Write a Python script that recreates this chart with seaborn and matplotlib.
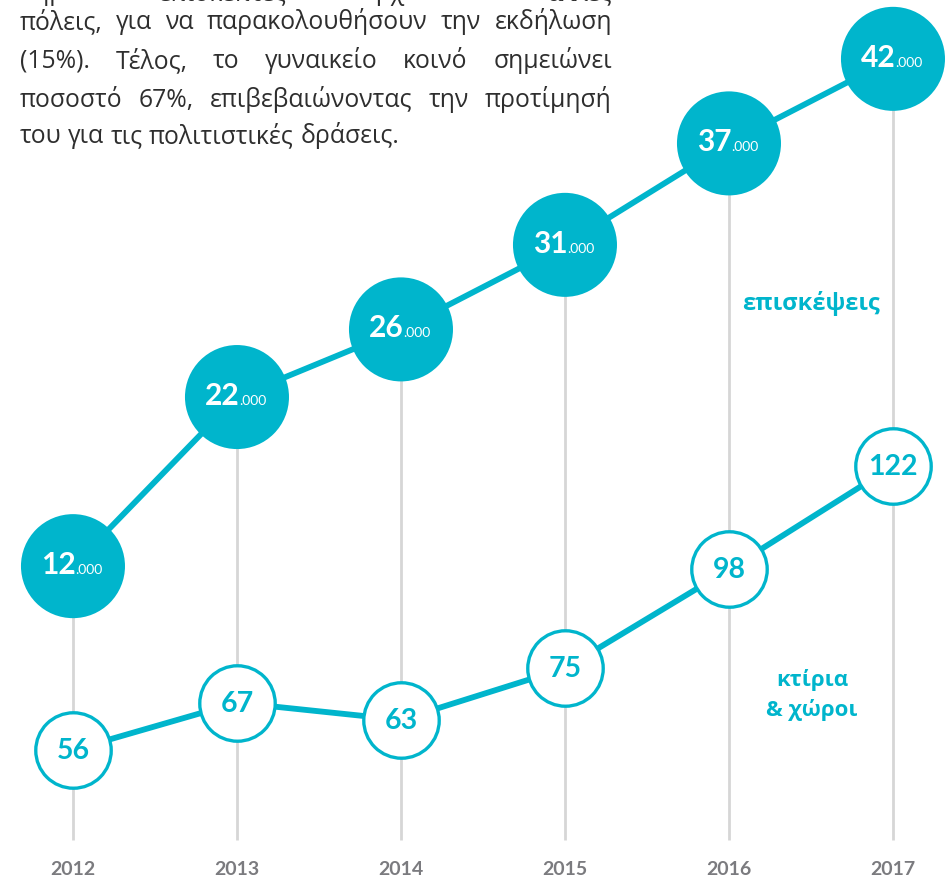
import matplotlib
matplotlib.use("Agg")
import matplotlib.pyplot as plt
import seaborn as sns
import pandas as pd

# ---- data ----
years = [2012, 2013, 2014, 2015, 2016, 2017]
visits_k = [12, 22, 26, 31, 37, 42]          # επισκέψεις (thousands)
buildings = [56, 67, 63, 75, 98, 122]        # κτίρια & χώροι
year_labels = ["2012", "2013", "2014", "2015", "2016", "2017"]
visits_suffix = ".000"
label_visits = "επισκέψεις"
label_buildings = "κτίρια\n& χώροι"
paragraph = [
    "σημαντικά επισκέπτες που έρχονται από άλλες",
    "πόλεις, για να παρακολουθήσουν την εκδήλωση",
    "(15%). Τέλος, το γυναικείο κοινό σημειώνει",
    "ποσοστό 67%, επιβεβαιώνοντας την προτίμησή",
    "του για τις πολιτιστικές δράσεις.",
]

TEAL = "#00B5CC"
GRID = "#D6D6D6"
YEARC = "#7B7B7F"
TEXTC = "#2E2E2E"
FONT = ["Lato", "Open Sans", "DejaVu Sans"]
FONT_TXT = ["Open Sans", "Noto Sans", "DejaVu Sans"]

sns.set_theme(style="white")
plt.rcParams["font.family"] = FONT

W, H = 953, 880
fig = plt.figure(figsize=(W / 100, H / 100), dpi=100)
ax = fig.add_axes([0, 0, 1, 1])
ax2 = ax.twinx()
ax2.set_position([0, 0, 1, 1])

df = pd.DataFrame({"year": years, "visits": visits_k, "buildings": buildings})

# scales
ax.set_xlim(2011.555, 2017.366)
ax.set_ylim(-6.56, 45.48)
ax2.set_ylim(25.77, 230.4)

# vertical guide lines
ax.vlines(df["year"], -4.2, df["visits"], color=GRID, lw=2, zorder=1)

# visits line + big circles
sns.lineplot(data=df, x="year", y="visits", ax=ax, color=TEAL, lw=4.2, zorder=2, legend=False)
sns.scatterplot(data=df, x="year", y="visits", ax=ax, s=5610, color=TEAL,
                edgecolor="none", zorder=3, legend=False)

# buildings line + ring circles
sns.lineplot(data=df, x="year", y="buildings", ax=ax2, color=TEAL, lw=4.2, zorder=2, legend=False)
sns.scatterplot(data=df, x="year", y="buildings", ax=ax2, s=2950, color="white",
                edgecolor=TEAL, linewidth=2.4, zorder=3, legend=False)

for a in (ax, ax2):
    a.set_axis_off()

# labels in big circles
for x, v in zip(years, visits_k):
    ax.annotate(str(v), (x, v), xytext=(3, -8), textcoords="offset pixels",
                ha="right", va="baseline", color="white", fontsize=21.5,
                fontweight="bold", zorder=5)
    ax.annotate(visits_suffix, (x, v), xytext=(2, -8), textcoords="offset pixels",
                ha="left", va="baseline", color="white", fontsize=10, zorder=5)

for x, b in zip(years, buildings):
    ax2.annotate(str(b), (x, b), xytext=(0, -1), textcoords="offset pixels",
                 ha="center", va="center", color=TEAL, fontsize=20.5,
                 fontweight="bold", zorder=5)

# year labels
for x, lab in zip(years, year_labels):
    ax.annotate(lab, (x, 0), xycoords=("data", "figure pixels"), xytext=(0, 11),
                textcoords="offset pixels", ha="center", va="center",
                color=YEARC, fontsize=14, fontweight="bold")

# series labels
fig.text(811 / W, 1 - 304 / H, label_visits, ha="center", va="center",
         color=TEAL, fontsize=17, fontweight="bold", family=FONT_TXT)
fig.text(812 / W, 1 - 695 / H, label_buildings, ha="center", va="center",
         color=TEAL, fontsize=16, fontweight="bold", linespacing=1.5,
         family=FONT_TXT)

# justified paragraph
fig.canvas.draw()
renderer = fig.canvas.get_renderer()
left, right = 20, 612
baselines = [0, 29, 68, 107, 143]
fs = 17.8
for i, (line, base) in enumerate(zip(paragraph, baselines)):
    words = line.split(" ")
    texts = [fig.text(0, 0, w, fontsize=fs, color=TEXTC, va="baseline", ha="left",
                      family=FONT_TXT)
             for w in words]
    widths = [t.get_window_extent(renderer).width for t in texts]
    if i < len(paragraph) - 1 and len(words) > 1:
        gap = (right - left - sum(widths)) / (len(words) - 1)
    else:
        sp = fig.text(0, 0, "a a", fontsize=fs, family=FONT_TXT)
        sp2 = fig.text(0, 0, "aa", fontsize=fs, family=FONT_TXT)
        gap = sp.get_window_extent(renderer).width - sp2.get_window_extent(renderer).width
        sp.remove(); sp2.remove()
    xcur = left
    for t, w in zip(texts, widths):
        t.set_position((xcur / W, 1 - base / H))
        xcur += w + gap

fig.savefig("out.png", dpi=100)
